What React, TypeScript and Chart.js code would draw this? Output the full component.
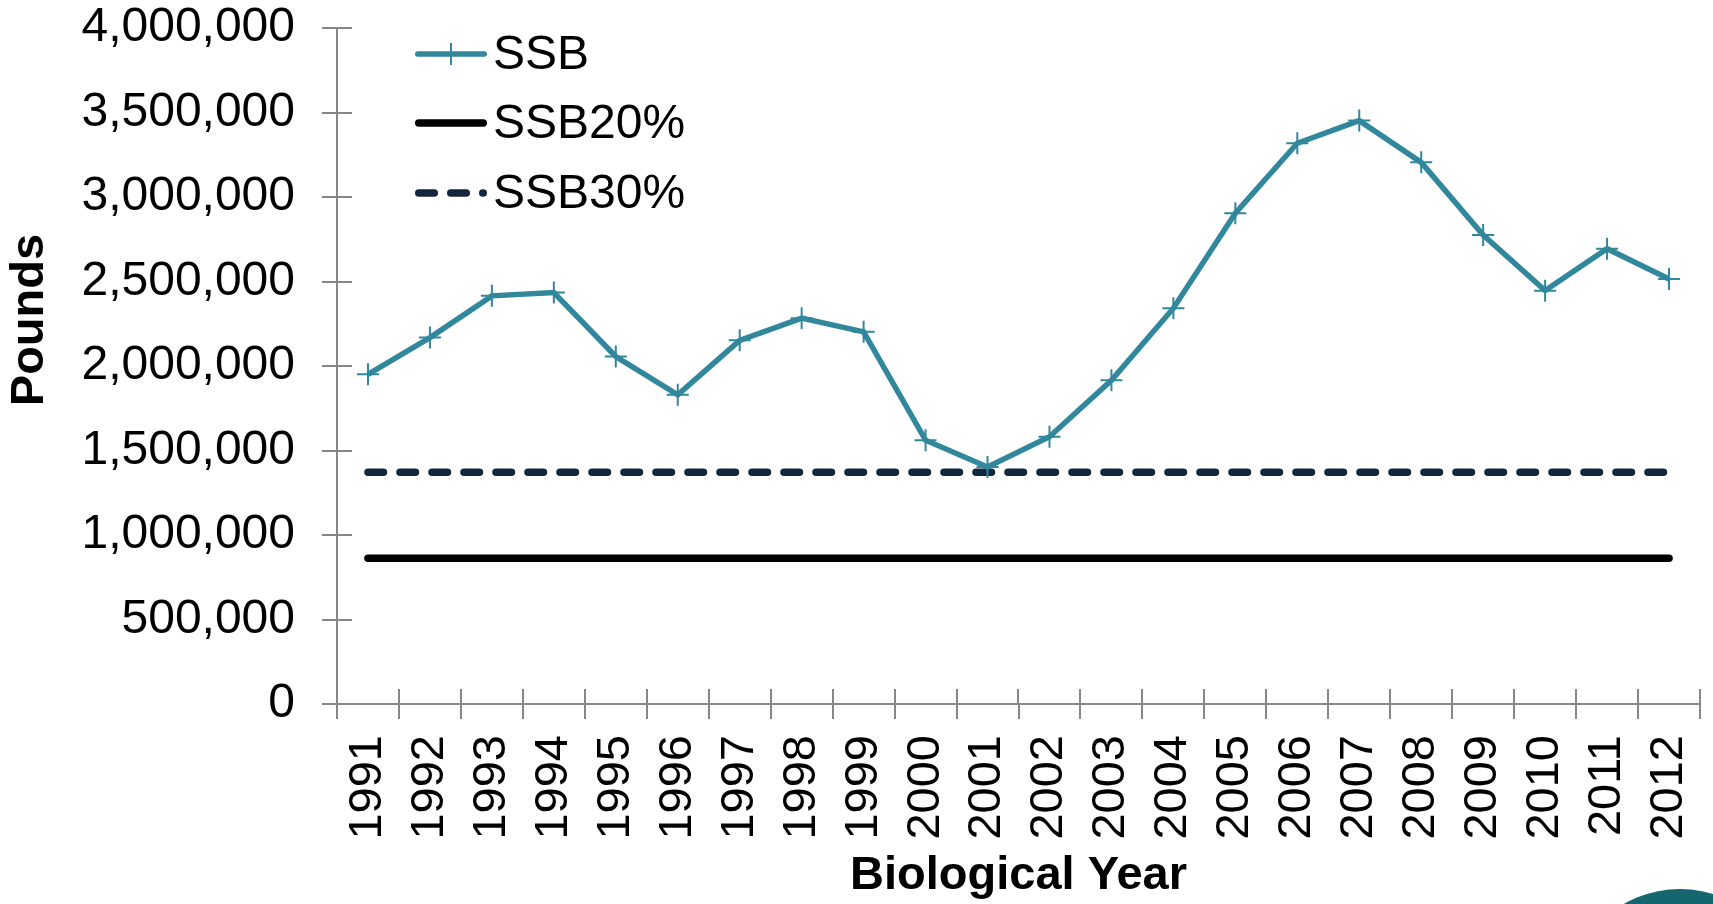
import React, { useEffect, useRef } from 'react';
import { Chart, registerables } from 'chart.js';

Chart.register(...registerables);

const years = ['1991','1992','1993','1994','1995','1996','1997','1998','1999','2000','2001','2002','2003','2004','2005','2006','2007','2008','2009','2010','2011','2012'];
const ssbValues = [1951000, 2168000, 2415000, 2435000, 2056000, 1830000, 2152000, 2283000, 2202000, 1561000, 1402000, 1581000, 1915000, 2342000, 2904000, 3318000, 3452000, 3205000, 2775000, 2446000, 2694000, 2515000];
const ssb20Level = 862000;
const ssb30Level = 1371000;
const yMin = 0;
const yMax = 4000000;
const yStep = 500000;
const seriesNames = ['SSB', 'SSB20%', 'SSB30%'];
const xTitle = 'Biological Year';
const yTitle = 'Pounds';

const FONT = "'Liberation Sans', Arial, Helvetica, sans-serif";
const AXIS = '#878787';
const TEAL = '#31879C';
const NAVY = '#12263F';

const crossTicks = {
  id: 'crossTicks',
  afterDraw(chart: any) {
    const { ctx, chartArea, scales } = chart;
    ctx.save();
    ctx.strokeStyle = AXIS;
    ctx.lineWidth = 2;
    const ys = scales.y;
    ys.ticks.forEach((_: any, i: number) => {
      const py = Math.round(ys.getPixelForTick(i));
      ctx.beginPath();
      ctx.moveTo(chartArea.left, py);
      ctx.lineTo(chartArea.left + 15, py);
      ctx.stroke();
    });
    const xs = scales.x;
    const w = xs.getPixelForValue(1) - xs.getPixelForValue(0);
    for (let i = 0; i <= years.length; i++) {
      const px = Math.round(xs.getPixelForValue(0) - w / 2 + i * w);
      ctx.beginPath();
      ctx.moveTo(px, chartArea.bottom);
      ctx.lineTo(px, chartArea.bottom - 15);
      ctx.stroke();
    }
    ctx.restore();
  },
};

const insideLegend = {
  id: 'insideLegend',
  afterDraw(chart: any) {
    const { ctx, chartArea } = chart;
    const rowOffsets = [26, 95, 165];
    chart.data.datasets.forEach((ds: any, i: number) => {
      const y = chartArea.top + rowOffsets[i];
      const x0 = chartArea.left + 78;
      const x1 = chartArea.left + 150;
      const lw = ds.borderWidth;
      ctx.save();
      ctx.strokeStyle = ds.borderColor;
      ctx.lineWidth = lw;
      ctx.lineCap = 'round';
      ctx.setLineDash(ds.borderDash || []);
      ctx.beginPath();
      ctx.moveTo(x0 + lw / 2, y);
      ctx.lineTo(x1 - lw / 2, y);
      ctx.stroke();
      if (ds.pointStyle === 'cross') {
        ctx.setLineDash([]);
        ctx.lineCap = 'butt';
        ctx.lineWidth = ds.pointBorderWidth;
        const mx = (x0 + x1) / 2;
        ctx.beginPath();
        ctx.moveTo(mx, y - ds.pointRadius);
        ctx.lineTo(mx, y + ds.pointRadius);
        ctx.stroke();
      }
      ctx.fillStyle = '#000';
      ctx.font = `48px ${FONT}`;
      ctx.textAlign = 'left';
      ctx.textBaseline = 'middle';
      ctx.fillText(ds.label, x1 + 6, y + 2);
      ctx.restore();
    });
  },
};

const yTitlePlugin = {
  id: 'yTitlePlugin',
  afterDraw(chart: any) {
    const { ctx, chartArea } = chart;
    ctx.save();
    ctx.translate(30, chartArea.top + (chartArea.bottom - chartArea.top) * 0.432);
    ctx.rotate(-Math.PI / 2);
    ctx.fillStyle = '#000';
    ctx.font = `bold 47px ${FONT}`;
    ctx.textAlign = 'center';
    ctx.textBaseline = 'middle';
    ctx.fillText(yTitle, 0, 0);
    ctx.restore();
  },
};

export default function App() {
  const canvasRef = useRef<HTMLCanvasElement | null>(null);

  useEffect(() => {
    if (!canvasRef.current) return;
    const chart = new Chart(canvasRef.current, {
      type: 'line',
      data: {
        labels: years,
        datasets: [
          {
            label: seriesNames[0],
            data: ssbValues,
            borderColor: TEAL,
            backgroundColor: TEAL,
            borderWidth: 5.5,
            pointStyle: 'cross',
            pointRadius: 11,
            pointBorderWidth: 2,
            pointBorderColor: TEAL,
            pointHoverRadius: 11,
            tension: 0,
            fill: false,
          },
          {
            label: seriesNames[1],
            data: years.map(() => ssb20Level),
            borderColor: '#000000',
            backgroundColor: '#000000',
            borderWidth: 7.5,
            borderCapStyle: 'round',
            pointRadius: 0,
            fill: false,
          },
          {
            label: seriesNames[2],
            data: years.map(() => ssb30Level),
            borderColor: NAVY,
            backgroundColor: NAVY,
            borderWidth: 7.5,
            borderDash: [15.5, 16.5],
            borderCapStyle: 'round',
            pointRadius: 0,
            fill: false,
          },
        ],
      } as any,
      options: {
        animation: false,
        responsive: false,
        maintainAspectRatio: false,
        layout: { padding: { left: 0, top: 0, right: 10, bottom: 0 } },
        plugins: {
          legend: { display: false },
          tooltip: { enabled: false },
        },
        scales: {
          x: {
            type: 'category',
            offset: true,
            grid: {
              offset: true,
              drawOnChartArea: false,
              drawTicks: true,
              tickLength: 15,
              color: AXIS,
              lineWidth: 2,
            },
            border: { display: true, color: AXIS, width: 2 },
            ticks: {
              autoSkip: false,
              minRotation: 90,
              maxRotation: 90,
              padding: 16,
              color: '#000',
              font: { size: 47, family: FONT },
            },
            title: {
              display: true,
              text: xTitle,
              color: '#000',
              font: { size: 47, weight: 'bold', family: FONT },
              padding: { top: 0, bottom: 0 },
            },
            afterFit: (s: any) => {
              s.height = 200;
              s.paddingLeft = 0;
              s.paddingRight = 0;
            },
          },
          y: {
            min: yMin,
            max: yMax,
            grid: {
              drawOnChartArea: false,
              drawTicks: true,
              tickLength: 15,
              color: AXIS,
              lineWidth: 2,
            },
            border: { display: true, color: AXIS, width: 2 },
            ticks: {
              stepSize: yStep,
              padding: 27,
              color: '#000',
              font: { size: 48, family: FONT },
              callback: (v: any) => Number(v).toLocaleString('en-US'),
            },
            afterFit: (s: any) => {
              s.width = 337;
              s.paddingTop = 28;
              s.paddingBottom = 28;
            },
          },
        },
      } as any,
      plugins: [crossTicks, insideLegend, yTitlePlugin],
    });
    return () => chart.destroy();
  }, []);

  return (
    <div style={{ position: 'fixed', left: 0, top: 0, width: 1713, height: 904, overflow: 'hidden', background: '#fff' }}>
      <canvas ref={canvasRef} width={1713} height={904} style={{ display: 'block' }} />
      <div
        style={{
          position: 'absolute',
          left: 1567,
          top: 889,
          width: 226,
          height: 226,
          borderRadius: '50%',
          background: '#14666F',
        }}
      />
    </div>
  );
}
